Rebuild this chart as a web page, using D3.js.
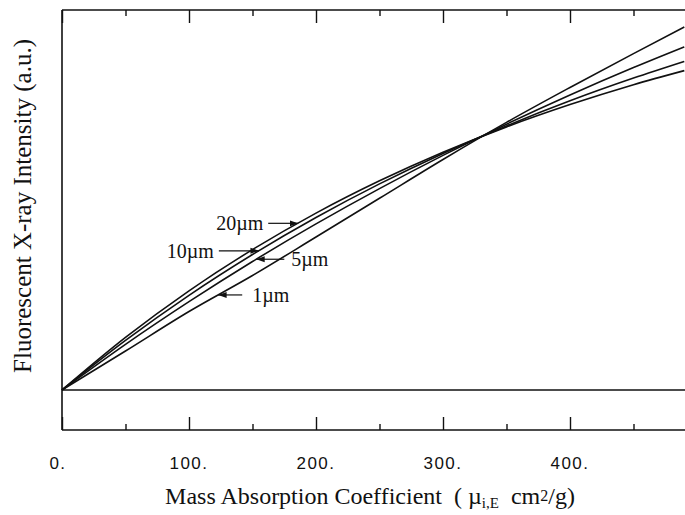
<!DOCTYPE html>
<html>
<head>
<meta charset="utf-8">
<script src="https://cdn.jsdelivr.net/npm/d3@7"></script>
<style>
  body { margin: 0; background: #fff; }
  svg { display: block; }
</style>
</head>
<body>
<svg id="chart" width="685" height="515"></svg>
<script>
// mass absorption coefficient (cm2/g) sampled along the curves
var massAbs = [0, 50, 100, 150, 200, 250, 300, 350, 400, 450, 490];
// fluorescent intensity (a.u.) for each film thickness
var int1um  = [0, 0.390, 0.785, 1.145, 1.530, 1.917, 2.305, 2.676, 3.025, 3.364, 3.630];
var int5um  = [0, 0.456, 0.883, 1.285, 1.661, 2.014, 2.346, 2.658, 2.950, 3.224, 3.431];
var int10um = [0, 0.496, 0.947, 1.355, 1.725, 2.061, 2.366, 2.641, 2.892, 3.119, 3.286];
var int20um = [0, 0.526, 0.992, 1.404, 1.769, 2.092, 2.378, 2.631, 2.854, 3.053, 3.194];

var seriesNames = ['1\u00b5m', '5\u00b5m', '10\u00b5m', '20\u00b5m'];
var seriesVals = [int1um, int5um, int10um, int20um];

var xTicks = [0, 100, 200, 300, 400];
var xMinor = [50, 150, 250, 350, 450];

// label annotations: which curve, where the arrow touches it, and which side the text sits
var annoSeries = ['20\u00b5m', '10\u00b5m', '5\u00b5m', '1\u00b5m'];
var annoX      = [186, 155, 153, 123];
var annoSide   = ['left', 'left', 'right', 'right'];
var annoLen    = [30, 40, 28, 24];
var annoGap    = [5, 5, 7, 10];

(function(){
  var svg = d3.select('#chart');
  var mLeft = 62, mTop = 10, mBottom = 430;

  var x = d3.scaleLinear().domain([0, 500]).range([mLeft, mLeft + 635]);
  var y = d3.scaleLinear().domain([-0.4, 3.8]).range([mBottom, mTop]);

  var data = seriesNames.map(function(n, i){
    return { name: n, values: massAbs.map(function(m, j){ return { x: m, y: seriesVals[i][j] }; }) };
  });

  // frame
  var frame = svg.append('g').attr('class', 'frame')
    .attr('stroke', '#111').attr('stroke-width', 1.6).attr('fill', 'none');
  frame.append('line').attr('x1', mLeft).attr('x2', 700).attr('y1', mTop).attr('y2', mTop);
  frame.append('line').attr('x1', mLeft).attr('x2', 700).attr('y1', mBottom).attr('y2', mBottom);
  frame.append('line').attr('x1', mLeft).attr('x2', mLeft).attr('y1', mTop).attr('y2', mBottom);
  frame.append('line').attr('x1', mLeft).attr('x2', 700).attr('y1', y(0)).attr('y2', y(0));

  // ticks on top (pointing down) and bottom (pointing up)
  var axisBottom = d3.axisBottom(x).tickValues(xTicks).tickSize(-13).tickFormat('');
  var axisTop = d3.axisTop(x).tickValues(xTicks).tickSize(-13).tickFormat('');
  var minorBottom = d3.axisBottom(x).tickValues(xMinor).tickSize(-6).tickFormat('');
  var minorTop = d3.axisTop(x).tickValues(xMinor).tickSize(-6).tickFormat('');

  [[axisBottom, mBottom], [minorBottom, mBottom], [axisTop, mTop], [minorTop, mTop]].forEach(function(a){
    var g = svg.append('g').attr('transform', 'translate(0,' + a[1] + ')').call(a[0]);
    g.select('.domain').remove();
    g.selectAll('.tick line').attr('stroke', '#111').attr('stroke-width', 1.4);
  });

  // tick labels
  svg.append('g').selectAll('text').data(xTicks).enter().append('text')
    .attr('x', function(d){ return x(d) + (d === 0 ? -4 : 0); })
    .attr('y', 469)
    .attr('text-anchor', 'middle')
    .attr('font-family', 'Liberation Sans, Arial, sans-serif')
    .attr('font-size', 17)
    .attr('letter-spacing', 1.5)
    .attr('fill', '#111')
    .text(function(d){ return d + '.'; });

  // curves
  var line = d3.line()
    .x(function(d){ return x(d.x); })
    .y(function(d){ return y(d.y); })
    .curve(d3.curveMonotoneX);

  svg.append('g').selectAll('path').data(data).enter().append('path')
    .attr('d', function(d){ return line(d.values); })
    .attr('fill', 'none')
    .attr('stroke', '#111')
    .attr('stroke-width', 1.6);

  // arrows + labels
  svg.append('defs').append('marker')
    .attr('id', 'head').attr('viewBox', '0 0 10 10')
    .attr('refX', 10).attr('refY', 5)
    .attr('markerWidth', 7).attr('markerHeight', 7)
    .attr('orient', 'auto-start-reverse')
    .append('path').attr('d', 'M0,1.5 L10,5 L0,8.5 Z').attr('fill', '#111');

  function valueAt(name, mx){
    var vals = seriesVals[seriesNames.indexOf(name)];
    var interp = d3.scaleLinear().domain(massAbs).range(vals);
    return interp(mx);
  }

  var anno = svg.append('g');
  annoSeries.forEach(function(name, i){
    var tx = x(annoX[i]), ty = y(valueAt(name, annoX[i]));
    var dir = annoSide[i] === 'left' ? -1 : 1;
    var tail = tx + dir * annoLen[i];
    anno.append('line')
      .attr('x1', tail).attr('y1', ty).attr('x2', tx).attr('y2', ty)
      .attr('stroke', '#111').attr('stroke-width', 1.2)
      .attr('marker-end', 'url(#head)');
    anno.append('text')
      .attr('x', tail + dir * annoGap[i])
      .attr('y', ty + 7)
      .attr('text-anchor', dir < 0 ? 'end' : 'start')
      .attr('font-family', 'Liberation Serif, Times New Roman, serif')
      .attr('font-size', 20)
      .attr('fill', '#111')
      .text(name);
  });

  // axis titles
  var xt = svg.append('text')
    .attr('x', 370).attr('y', 504)
    .attr('text-anchor', 'middle')
    .attr('font-family', 'Liberation Serif, Times New Roman, serif')
    .attr('font-size', 24)
    .attr('fill', '#111');
  xt.append('tspan').text('Mass Absorption Coefficient\u00a0\u00a0(\u00a0\u00b5');
  xt.append('tspan').attr('font-size', 15).attr('dy', 4).text('i,E');
  xt.append('tspan').attr('dy', -4).text('\u00a0\u00a0cm');
  xt.append('tspan').attr('font-size', 16).attr('dy', -3).text('2');
  xt.append('tspan').attr('dy', 3).text('/g)');

  svg.append('text')
    .attr('transform', 'translate(31,206) rotate(-90)')
    .attr('text-anchor', 'middle')
    .attr('font-family', 'Liberation Serif, Times New Roman, serif')
    .attr('font-size', 25)
    .attr('fill', '#111')
    .text('Fluorescent X-ray Intensity (a.u.)');
})();
</script>
</body>
</html>
